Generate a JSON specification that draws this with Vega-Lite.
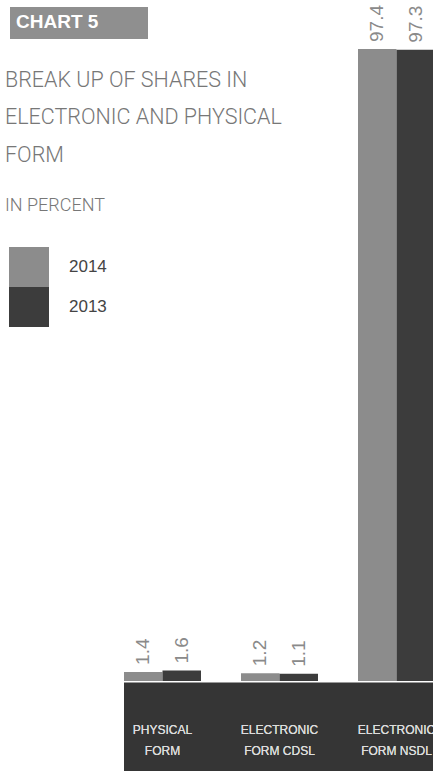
{
  "$schema": "https://vega.github.io/schema/vega-lite/v6.json",
  "width": 311,
  "height": 771,
  "autosize": {"type": "none"},
  "padding": {"left": 124, "top": 0, "right": 0, "bottom": 0},
  "background": "white",
  "config": {"view": {"stroke": null}},
  "title": {
    "text": ["BREAK UP OF SHARES IN", "ELECTRONIC AND PHYSICAL", "FORM"],
    "subtitle": "IN PERCENT",
    "anchor": "start",
    "orient": "top",
    "frame": "bounds",
    "offset": -215,
    "dx": -4,
    "font": "Roboto",
    "fontWeight": 300,
    "fontSize": 21.5,
    "lineHeight": 37.5,
    "color": "#777777",
    "subtitleFont": "Roboto",
    "subtitleFontWeight": 300,
    "subtitleFontSize": 18,
    "subtitleColor": "#777777",
    "subtitlePadding": 31
  },
  "data": {
    "values": [
      {"form": "PHYSICAL\nFORM", "year": "2014", "value": 1.4},
      {"form": "PHYSICAL\nFORM", "year": "2013", "value": 1.6},
      {"form": "ELECTRONIC\nFORM CDSL", "year": "2014", "value": 1.2},
      {"form": "ELECTRONIC\nFORM CDSL", "year": "2013", "value": 1.1},
      {"form": "ELECTRONIC\nFORM NSDL", "year": "2014", "value": 97.4},
      {"form": "ELECTRONIC\nFORM NSDL", "year": "2013", "value": 97.3}
    ]
  },
  "encoding": {
    "x": {
      "field": "form",
      "type": "nominal",
      "sort": null,
      "axis": null,
      "scale": {"paddingInner": 0.342, "paddingOuter": 0}
    }
  },
  "layer": [
    {
      "data": {"values": [{"part": "band"}]},
      "mark": {"type": "rect", "color": "#353535"},
      "encoding": {
        "x": null,
        "y": {"datum": -0.25, "type": "quantitative", "axis": null, "scale": {"domain": [-13.87, 104.95], "nice": false, "zero": false}},
        "y2": {"datum": -14}
      }
    },
    {
      "mark": {"type": "bar", "stroke": null},
      "encoding": {
        "xOffset": {"field": "year", "type": "nominal", "sort": ["2014", "2013"], "scale": {"paddingInner": 0, "paddingOuter": 0}},
        "y": {"field": "value", "type": "quantitative"},
        "color": {
          "field": "year",
          "type": "nominal",
          "sort": ["2014", "2013"],
          "scale": {"domain": ["2014", "2013"], "range": ["#8c8c8c", "#3c3c3c"]},
          "legend": {
            "title": null,
            "orient": "none",
            "legendX": -115,
            "legendY": 247,
            "padding": 0,
            "symbolType": "square",
            "symbolSize": 1600,
            "symbolStrokeWidth": 0,
            "rowPadding": 0,
            "labelFont": "Liberation Sans",
            "labelFontSize": 17,
            "labelColor": "#444444",
            "labelOffset": 20
          }
        },
        "opacity": {
          "datum": "CHART 5",
          "type": "nominal",
          "scale": {"range": [1, 1]},
          "legend": {
            "title": "CHART 5",
            "orient": "none",
            "legendX": -114,
            "legendY": 7,
            "fillColor": "#8f8f8f",
            "padding": 6,
            "titleColor": "#ffffff",
            "titleFont": "Liberation Sans",
            "titleFontWeight": "bold",
            "titleFontSize": 19,
            "titlePadding": 0,
            "symbolOpacity": 0,
            "symbolSize": 0,
            "labelOpacity": 0,
            "labelFontSize": 1,
            "symbolOffset": 115
          }
        }
      }
    },
    {
      "mark": {"type": "text", "angle": 270, "align": "left", "baseline": "middle", "dx": 7, "font": "Liberation Sans", "fontSize": 19, "color": "#8a8a8a"},
      "encoding": {
        "xOffset": {"field": "year", "type": "nominal", "sort": ["2014", "2013"]},
        "y": {"field": "value", "type": "quantitative"},
        "text": {"field": "value", "type": "quantitative", "format": ".1f"}
      }
    },
    {
      "mark": {"type": "text", "align": "center", "baseline": "middle", "lineBreak": "\n", "lineHeight": 21, "font": "Liberation Sans", "fontSize": 12, "color": "#dddddd"},
      "encoding": {
        "y": {"datum": -7.6, "type": "quantitative"},
        "text": {"field": "form", "type": "nominal"}
      }
    }
  ]
}
